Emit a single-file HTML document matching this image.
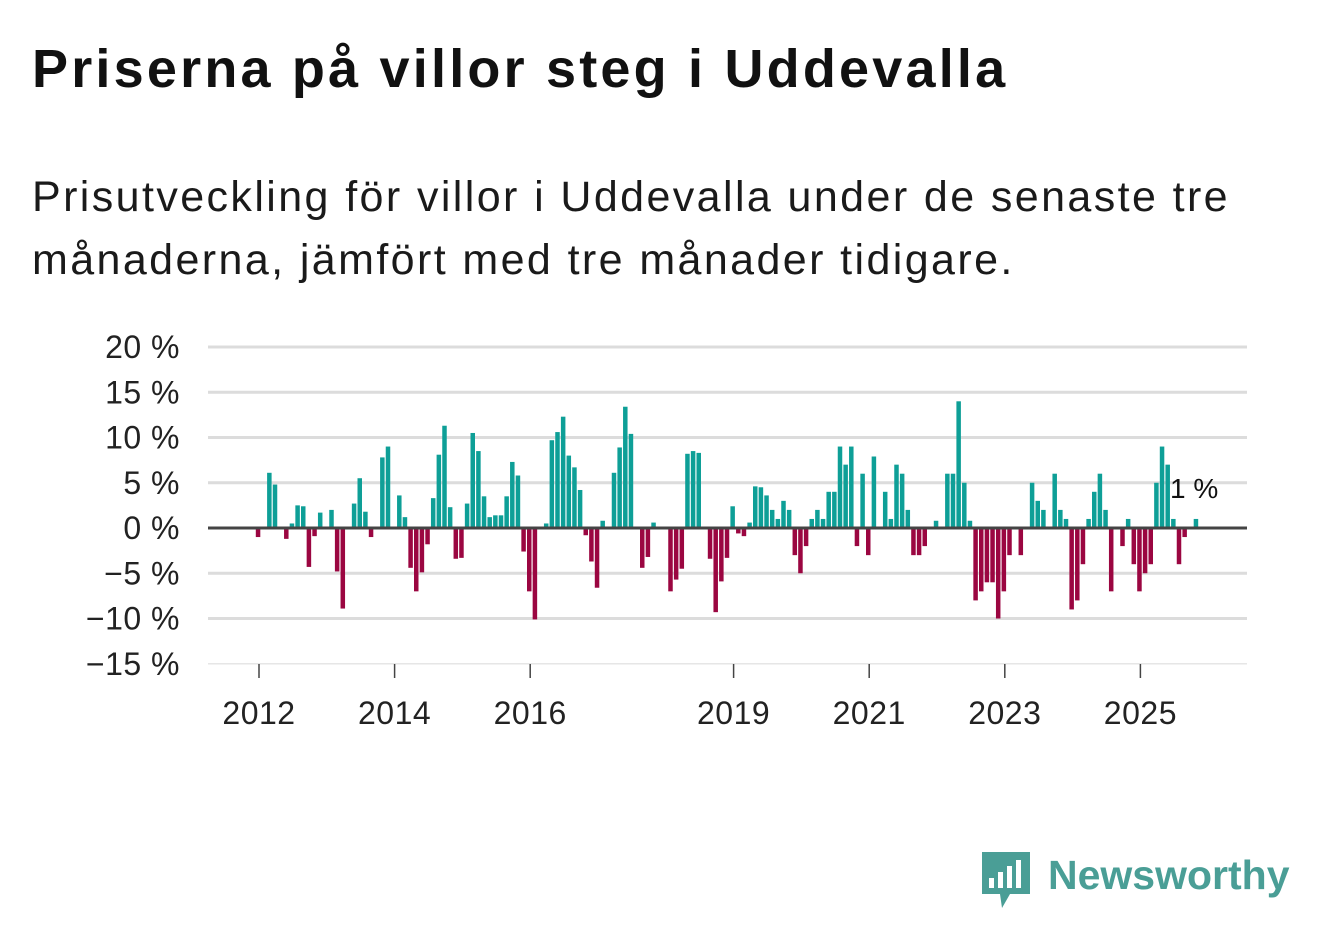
<!DOCTYPE html>
<html><head><meta charset="utf-8"><style>
body{margin:0;background:#fff;width:1322px;height:939px;overflow:hidden;font-family:"Liberation Sans",sans-serif;color:#111}
h1{position:absolute;left:32px;top:38px;margin:0;font-size:54px;font-weight:bold;letter-spacing:3.2px;white-space:nowrap}
.sub{position:absolute;left:32px;top:166px;margin:0;font-size:43px;line-height:63px;color:#1a1a1a;letter-spacing:2.4px;white-space:nowrap}
svg{position:absolute;left:0;top:0}
</style></head><body>
<h1>Priserna på villor steg i Uddevalla</h1>
<p class="sub">Prisutveckling för villor i Uddevalla under de senaste tre<br>månaderna, jämfört med tre månader tidigare.</p>
<svg width="1322" height="939">
<g id="grid"></g><g id="bars"></g><g id="axes"></g>
<text x="1170" y="498" font-size="28" fill="#111">1 %</text>
<g>
<path d="M982 852 h48 v42 h-20 l-8 14 l-2 -14 h-18 z" fill="#4a9e96"/>
<rect x="989" y="878" width="5" height="10" fill="#fff"/><rect x="998" y="872" width="5" height="16" fill="#fff"/><rect x="1007" y="866" width="5" height="22" fill="#fff"/><rect x="1016" y="860" width="5" height="28" fill="#fff"/>
<text x="1048" y="889" font-size="41" font-weight="bold" fill="#4a9e96">Newsworthy</text>
</g>
</svg>
<script>
const values=[-1,0,6.1,4.8,0,-1.2,0.5,2.5,2.4,-4.3,-0.9,1.7,0,2.0,-4.8,-8.9,0,2.7,5.5,1.8,-1,0,7.8,9.0,0,3.6,1.2,-4.4,-7.0,-4.9,-1.8,3.3,8.1,11.3,2.3,-3.4,-3.3,2.7,10.5,8.5,3.5,1.2,1.4,1.4,3.5,7.3,5.8,-2.6,-7.0,-10.1,0,0.5,9.7,10.6,12.3,8.0,6.7,4.2,-0.8,-3.7,-6.6,0.8,0,6.1,8.9,13.4,10.4,0,-4.4,-3.2,0.6,0,0,-7.0,-5.7,-4.5,8.2,8.5,8.3,0,-3.4,-9.3,-5.9,-3.3,2.4,-0.6,-0.9,0.6,4.6,4.5,3.6,2.0,1.0,3.0,2.0,-3.0,-5.0,-2.0,1.0,2.0,1.0,4.0,4.0,9.0,7.0,9.0,-2.0,6.0,-3.0,7.9,0,4.0,1.0,7.0,6.0,2.0,-3.0,-3.0,-2.0,0,0.8,0,6.0,6.0,14.0,5.0,0.8,-8.0,-7.0,-6.0,-6.0,-10.0,-7.0,-3.0,0,-3.0,0,5.0,3.0,2.0,0,6.0,2.0,1.0,-9.0,-8.0,-4.0,1.0,4.0,6.0,2.0,-7.0,0,-2.0,1.0,-4.0,-7.0,-5.0,-4.0,5.0,9.0,7.0,1.0,-4.0,-1.0,0,1.0];
const yTicks=[20,15,10,5,0,-5,-10,-15];
const yTickLabels=["20 %","15 %","10 %","5 %","0 %","−5 %","−10 %","−15 %"];
const xYears=[2012,2014,2016,2019,2021,2023,2025];
const startYear=2012;
const NS="http://www.w3.org/2000/svg";
const y=v=>528-v*9.05;
const x=i=>258+i*5.65;
const xy=yr=>259+(yr-startYear)*67.8;
function mk(t,a,p){const e=document.createElementNS(NS,t);for(const k in a)e.setAttribute(k,a[k]);p.appendChild(e);return e;}
const grid=document.getElementById('grid'),bars=document.getElementById('bars'),axes=document.getElementById('axes');
yTicks.forEach((v,k)=>{
 if(v!==0){const l=mk('line',{x1:208,x2:1247,y1:y(v),y2:y(v),stroke:v===-15?'#e6e6e6':'#dcdcdc','stroke-width':v===-15?1.5:3},grid);
 
 }
 const t=mk('text',{x:180,y:y(v)+11,'text-anchor':'end','font-size':32,fill:'#222','letter-spacing':'0.5'},axes);t.textContent=yTickLabels[k];
 
 
});
values.forEach((v,i)=>{
 if(v===0)return;
 const r=mk('rect',{x:x(i)-2.2,width:4.5,y:v>0?y(v):528,height:Math.abs(v)*9.05,fill:v>0?'#0e9f97':'#9b0641'},bars);
 
 
});
const z=mk('line',{x1:208,x2:1247,y1:528,y2:528,stroke:'#444','stroke-width':3},axes);


xYears.forEach(yr=>{
 const tk=mk('line',{x1:xy(yr),x2:xy(yr),y1:664,y2:678,stroke:'#444','stroke-width':1.5},axes);
 
 
 const t=mk('text',{x:xy(yr),y:724,'text-anchor':'middle','font-size':32,fill:'#222','letter-spacing':'0.5'},axes);t.textContent=yr;
 
 
});
</script>
</body></html>
